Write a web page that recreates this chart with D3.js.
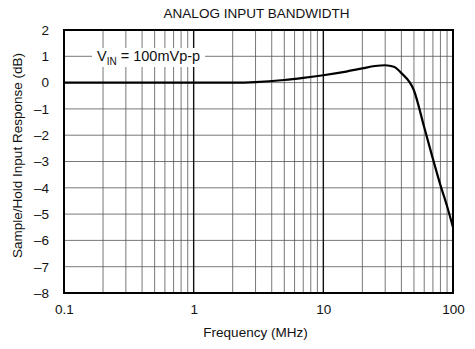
<!DOCTYPE html>
<html>
<head>
<meta charset="utf-8">
<script src="https://cdn.jsdelivr.net/npm/d3@7"></script>
<style>
  body { margin: 0; background: #fff; }
  text { font-family: "Liberation Sans", Arial, sans-serif; fill: #111; }
</style>
</head>
<body>
<div id="chart"></div>
<script>
const freqMHz = [0.1, 1, 2, 3, 5, 7, 10, 15, 20, 25, 30, 35, 40, 50, 60, 70, 80, 90, 100];
const responseDb = [0, 0, 0, 0.02, 0.1, 0.18, 0.28, 0.42, 0.54, 0.63, 0.66, 0.6, 0.36, -0.3, -1.7, -2.9, -3.9, -4.7, -5.5];
const yTicks = [2, 1, 0, -1, -2, -3, -4, -5, -6, -7, -8];
const xTicks = [0.1, 1, 10, 100];

const W = 475, H = 349;
const margin = { top: 30, right: 22, bottom: 56, left: 64 };
const width = W - margin.left - margin.right,
      height = H - margin.top - margin.bottom;

const svg = d3.select("#chart").append("svg")
  .attr("width", W).attr("height", H);

const g = svg.append("g")
  .attr("transform", `translate(${margin.left},${margin.top})`);

const x = d3.scaleLog().domain([0.1, 100]).range([0, width]);
const y = d3.scaleLinear().domain([-8, 2]).range([height, 0]);

// minor log grid
const minor = [];
for (let dec = 0.1; dec < 100; dec *= 10) {
  for (let k = 2; k <= 9; k++) minor.push(+(dec * k).toPrecision(3));
}
g.selectAll(".minor").data(minor).enter().append("line")
  .attr("x1", d => x(d)).attr("x2", d => x(d))
  .attr("y1", 0).attr("y2", height)
  .attr("stroke", "#555").attr("stroke-width", 0.8);

g.selectAll(".hgrid").data(yTicks).enter().append("line")
  .attr("x1", 0).attr("x2", width)
  .attr("y1", d => y(d)).attr("y2", d => y(d))
  .attr("stroke", "#555").attr("stroke-width", 0.8);

// decade lines
g.selectAll(".decade").data([1, 10]).enter().append("line")
  .attr("x1", d => x(d)).attr("x2", d => x(d))
  .attr("y1", 0).attr("y2", height)
  .attr("stroke", "#111").attr("stroke-width", 1.4);

// annotation with white box
const note = g.append("text")
  .attr("x", 33).attr("y", 31)
  .style("font-size", "14.5px");
note.append("tspan").text("V");
note.append("tspan").attr("dy", 4).style("font-size", "10px").text("IN");
note.append("tspan").attr("dy", -4).text(" = 100mVp-p");
const bb = note.node().getBBox();
g.insert("rect", "text")
  .attr("x", bb.x - 5).attr("y", bb.y)
  .attr("width", bb.width + 10).attr("height", bb.height)
  .attr("fill", "#fff");

// curve
const line = d3.line()
  .x((d, i) => x(freqMHz[i]))
  .y(d => y(d))
  .curve(d3.curveMonotoneX);
g.append("path")
  .datum(responseDb)
  .attr("d", line)
  .attr("fill", "none")
  .attr("stroke", "#000")
  .attr("stroke-width", 2.2);

// frame
g.append("rect")
  .attr("width", width).attr("height", height)
  .attr("fill", "none").attr("stroke", "#000").attr("stroke-width", 2);

// axes labels
const xAxis = g.append("g")
  .attr("transform", `translate(0,${height})`)
  .call(d3.axisBottom(x).tickValues(xTicks).tickSize(0).tickPadding(11)
    .tickFormat(d => String(d)));
xAxis.select(".domain").remove();
xAxis.selectAll("text").style("font-size", "13.5px")
  .style("font-family", "Liberation Sans, Arial, sans-serif").attr("fill", "#111");

const yAxis = g.append("g")
  .call(d3.axisLeft(y).tickValues(yTicks).tickSize(0).tickPadding(15)
    .tickFormat(d => d < 0 ? "\u2013" + Math.abs(d) : String(d)));
yAxis.select(".domain").remove();
yAxis.selectAll("text").style("font-size", "13.5px")
  .style("font-family", "Liberation Sans, Arial, sans-serif").attr("fill", "#111");

svg.append("text")
  .attr("x", margin.left + width / 2 - 2).attr("y", 18)
  .attr("text-anchor", "middle")
  .style("font-size", "13.5px")
  .text("ANALOG INPUT BANDWIDTH");

svg.append("text")
  .attr("x", margin.left + width / 2 - 3).attr("y", H - 12)
  .attr("text-anchor", "middle")
  .style("font-size", "13.5px")
  .text("Frequency (MHz)");

svg.append("text")
  .attr("transform", `translate(22,${margin.top + height / 2 - 6}) rotate(-90)`)
  .attr("text-anchor", "middle")
  .style("font-size", "13.5px")
  .text("Sample/Hold Input Response (dB)");
</script>
</body>
</html>
